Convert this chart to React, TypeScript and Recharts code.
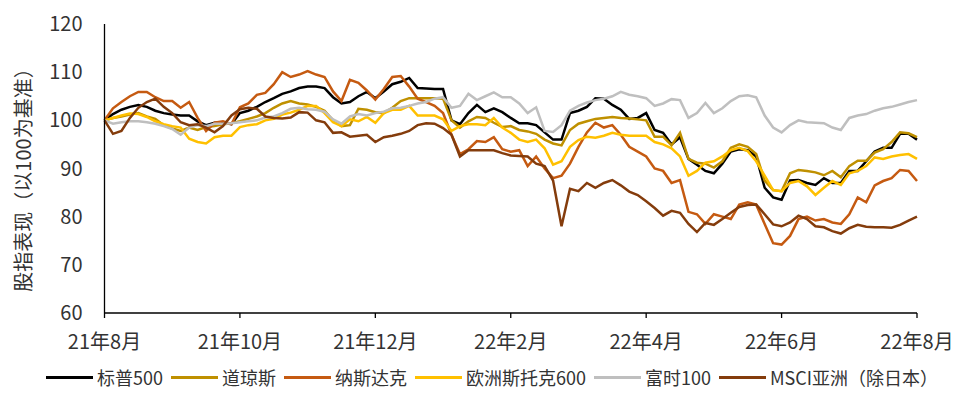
import React from 'react';
import { LineChart, Line, XAxis, YAxis, Legend, Label } from 'recharts';

// sample positions: half-week steps, in months since 2021-08 (0 … 12)
const xMonths = Array.from({ length: 97 }, (_, i) => i / 8);

const tickMonths = [0, 2, 4, 6, 8, 10, 12];
const tickLabels = ['21年8月', '21年10月', '21年12月', '22年2月', '22年4月', '22年6月', '22年8月'];
const yTicks = [60, 70, 80, 90, 100, 110, 120];

const sp500 = [100, 101.3, 102.2, 102.8, 103.2, 102.8, 102, 101.5, 101.2, 101, 101, 99.8, 99, 99.5, 99.5, 99.2, 101.5, 102, 102.8, 103.8, 104.6, 105.5, 106, 106.7, 107, 107, 106.7, 104.8, 103.5, 103.8, 105, 105.9, 104.6, 106, 107.5, 108, 108.8, 106.7, 106.6, 106.5, 106.5, 100, 99.2, 101.5, 103.2, 101.7, 102.5, 101.7, 100.5, 99.4, 99.4, 99, 97.5, 96, 96, 101.5, 102, 102.8, 104.6, 104.5, 103.2, 102.2, 100.3, 100.5, 101.5, 98, 97.4, 95, 96.5, 92, 90.8, 89.5, 89, 91, 93.5, 94, 93.8, 92.5, 86, 84, 83.5, 87.5, 87.6, 87, 86.6, 88, 87, 87, 89.5, 89.5, 91.5, 93.5, 94.3, 94.3, 97.2, 97.2, 96];
const dow = [100, 100.5, 100.8, 101.2, 101.5, 100.8, 100.3, 99, 98.3, 97.8, 98.5, 98, 98.6, 98.8, 99.2, 99.4, 99.8, 100.3, 100.8, 101.5, 102.6, 103.5, 104, 103.5, 103.3, 102.8, 102, 100, 98.8, 99, 102.4, 102.2, 101.7, 101.5, 102.6, 104, 104.6, 104.6, 104.6, 104.6, 104.5, 100, 98.5, 99.8, 100.7, 100.5, 99.5, 98.6, 98.8, 98, 97.7, 97.2, 96, 95.2, 94.8, 98, 99.3, 99.8, 100.3, 100.5, 100.7, 100.5, 100.4, 100.2, 100, 96.6, 96.6, 94.8, 97.4, 92, 91.2, 91, 90.2, 91.5, 94.3, 95, 94.5, 93, 87.5, 85.5, 85.3, 89, 89.7, 89.5, 89.2, 88.6, 89.5, 88.2, 90.5, 91.6, 91.6, 93.3, 94, 95.5, 97.5, 97.3, 96.5];
const nasdaq = [100, 102.5, 103.8, 105, 105.9, 105.9, 104.8, 104, 104, 102.6, 103.8, 100.5, 97.8, 99.5, 99.8, 99.2, 102.7, 103.5, 105.3, 105.7, 107.5, 110, 109, 109.5, 110.2, 109.5, 109, 106, 104, 108.4, 107.8, 106.2, 104.3, 106.5, 109, 109.2, 107, 104.5, 103.8, 103, 101.5, 97, 93, 94, 95.7, 95.5, 96.5, 94, 93.5, 93.8, 90.5, 92.5, 90, 88, 88.5, 91, 94.5, 97.5, 99.5, 98.5, 99, 97, 94.5, 93.5, 92.5, 90, 89.5, 87, 87.6, 81, 80.5, 78.5, 80.5, 80, 79.5, 82.5, 83, 82.5, 78.5, 74.5, 74.2, 76, 79.5, 80, 79.2, 79.5, 78.8, 78.5, 80.5, 84, 83, 86.5, 87.4, 88, 89.7, 89.5, 87.4];
const stoxx600 = [100, 100.5, 101, 101.4, 101.3, 100.7, 99.8, 99.2, 98.8, 98.5, 96.2, 95.5, 95.2, 96.5, 96.8, 96.8, 98.6, 99, 99.2, 100, 100.3, 101.2, 101.6, 102.2, 103, 103, 101.5, 99.6, 98.8, 100.2, 99.8, 100.7, 99.5, 101.5, 102.2, 102.2, 103, 101, 101, 101, 100.2, 97.8, 98.8, 99.2, 99.2, 99, 100.5, 98.5, 97.4, 96, 95.5, 96, 94.2, 90.8, 91.5, 94.5, 95.9, 96.6, 96.4, 96.8, 97.4, 97, 96.8, 96.8, 96.8, 95.5, 95, 94.2, 92.5, 88.5, 89.5, 91.2, 91.5, 92.5, 93.8, 94.3, 93.6, 91.5, 88.5, 85.5, 85.3, 87, 87.4, 86.3, 84.5, 86, 87.4, 86.6, 89, 89.5, 90.5, 92.3, 92, 92.5, 92.8, 93, 92];
const ftse100 = [100, 99.3, 99.6, 99.8, 99.8, 99.6, 99.3, 98.8, 98.2, 97, 98.5, 99, 98.8, 99.3, 99.3, 99.4, 99.6, 99.8, 100, 100.6, 100.8, 101.5, 102.4, 102.6, 102.3, 102.2, 101.8, 100.2, 99.3, 100.8, 101.3, 101, 101.5, 101.8, 102.5, 102.6, 103, 103.5, 103.8, 104.5, 104.8, 102.6, 103, 105.5, 104.2, 105, 105.8, 104.8, 104.8, 103.5, 101.5, 102.7, 97.8, 97.6, 99, 102, 103, 103.7, 104.2, 104.5, 105, 105.9, 105.3, 105, 104.6, 103, 103.5, 104.4, 104.2, 100.5, 101.5, 103.6, 101.5, 102.5, 104, 105, 105.2, 104.8, 101, 98.5, 97.5, 99, 100, 99.6, 99.5, 99.4, 98.5, 98, 100.5, 101, 101.3, 102, 102.5, 102.8, 103.3, 103.8, 104.2];
const msciAsia = [100, 97.2, 97.8, 100.5, 102.6, 103.8, 104.5, 102.8, 101.5, 99.6, 99, 99.2, 98.5, 97.5, 98.8, 101, 102.3, 102.6, 102.4, 100.8, 100.5, 100.4, 100.6, 101.7, 101.6, 100, 99.6, 97.4, 97.5, 96.6, 96.8, 97, 95.5, 96.5, 96.8, 97.2, 97.8, 99, 99.4, 99.3, 98.4, 97, 92.5, 93.8, 93.8, 93.8, 93.8, 93.2, 92.7, 92.6, 92.5, 91, 90.5, 87.5, 78, 85.8, 85.3, 87, 86, 87, 87.6, 86.5, 85.2, 84.5, 83.2, 81.8, 80.2, 81.2, 80.8, 78.5, 76.8, 78.7, 78.3, 79.5, 80.8, 82, 82.4, 82.5, 80.5, 78.4, 78, 78.8, 80.2, 79.5, 78, 77.8, 77, 76.5, 77.6, 78.3, 77.9, 77.8, 77.8, 77.7, 78.3, 79.2, 80];

const seriesKeys = ['sp500', 'dow', 'nasdaq', 'stoxx600', 'ftse100', 'msciAsia'];
const seriesNames = ['标普500', '道琼斯', '纳斯达克', '欧洲斯托克600', '富时100', 'MSCI亚洲（除日本）'];
const seriesColors = ['#000000', '#BF9000', '#C55A11', '#FFC000', '#BFBFBF', '#843C0C'];
const seriesValues = [sp500, dow, nasdaq, stoxx600, ftse100, msciAsia];

const data = xMonths.map((m, i) => {
  const row: Record<string, number> = { m };
  seriesKeys.forEach((k, j) => {
    row[k] = seriesValues[j][i];
  });
  return row;
});

const FONT = '"Noto Sans CJK SC", "Noto Sans", sans-serif';
const TEXT = '#333333';

function LegendContent() {
  return (
    <div style={{ display: 'flex', alignItems: 'center', fontFamily: FONT, fontSize: 18, color: TEXT, whiteSpace: 'nowrap', lineHeight: '26px' }}>
      {seriesNames.map((n, i) => (
        <div key={n} style={{ display: 'flex', alignItems: 'center', marginRight: 8 }}>
          <div style={{ width: 47, height: 3, background: seriesColors[i], marginRight: 4 }} />
          <span>{n}</span>
        </div>
      ))}
    </div>
  );
}

export default function App() {
  return (
    <div style={{ width: 945, height: 388, fontFamily: FONT, position: 'relative' }}>
      <LineChart width={945} height={388} data={data} margin={{ top: 16, right: 36, bottom: 23, left: 0 }}>
        <XAxis
          dataKey="m"
          type="number"
          domain={[0, 12]}
          ticks={tickMonths}
          tickFormatter={(v: number) => tickLabels[tickMonths.indexOf(v)] ?? ''}
          height={60}
          tickSize={5}
          tickMargin={17}
          axisLine={{ stroke: '#000', strokeWidth: 1.3 }}
          tickLine={{ stroke: '#000', strokeWidth: 1.3 }}
          tick={{ fill: TEXT, fontSize: 20, fontFamily: FONT }}
          interval={0}
        />
        <YAxis
          type="number"
          domain={[60, 120]}
          ticks={yTicks}
          width={96.5}
          tickLine={false}
          tickSize={6}
          tickMargin={16}
          axisLine={{ stroke: '#000', strokeWidth: 1.3 }}
          tick={{ fill: TEXT, fontSize: 20, fontFamily: FONT }}
          interval={0}
        >
          <Label
            content={() => (
              <text
                x={14}
                y={167}
                transform="rotate(-90, 14, 167)"
                textAnchor="middle"
                dominantBaseline="central"
                fill={TEXT}
                fontSize={20}
                fontFamily={FONT}
              >
                股指表现（以100为基准）
              </text>
            )}
          />
        </YAxis>
        {seriesKeys.map((k, i) => (
          <Line
            key={k}
            type="linear"
            dataKey={k}
            name={seriesNames[i]}
            stroke={seriesColors[i]}
            strokeWidth={2.5}
            dot={false}
            activeDot={false}
            isAnimationActive={false}
          />
        ))}
        <Legend
          layout="horizontal"
          verticalAlign="middle"
          align="center"
          content={<LegendContent />}
          wrapperStyle={{ top: 356, left: 38, width: 910, height: 26 }}
        />
      </LineChart>
    </div>
  );
}
